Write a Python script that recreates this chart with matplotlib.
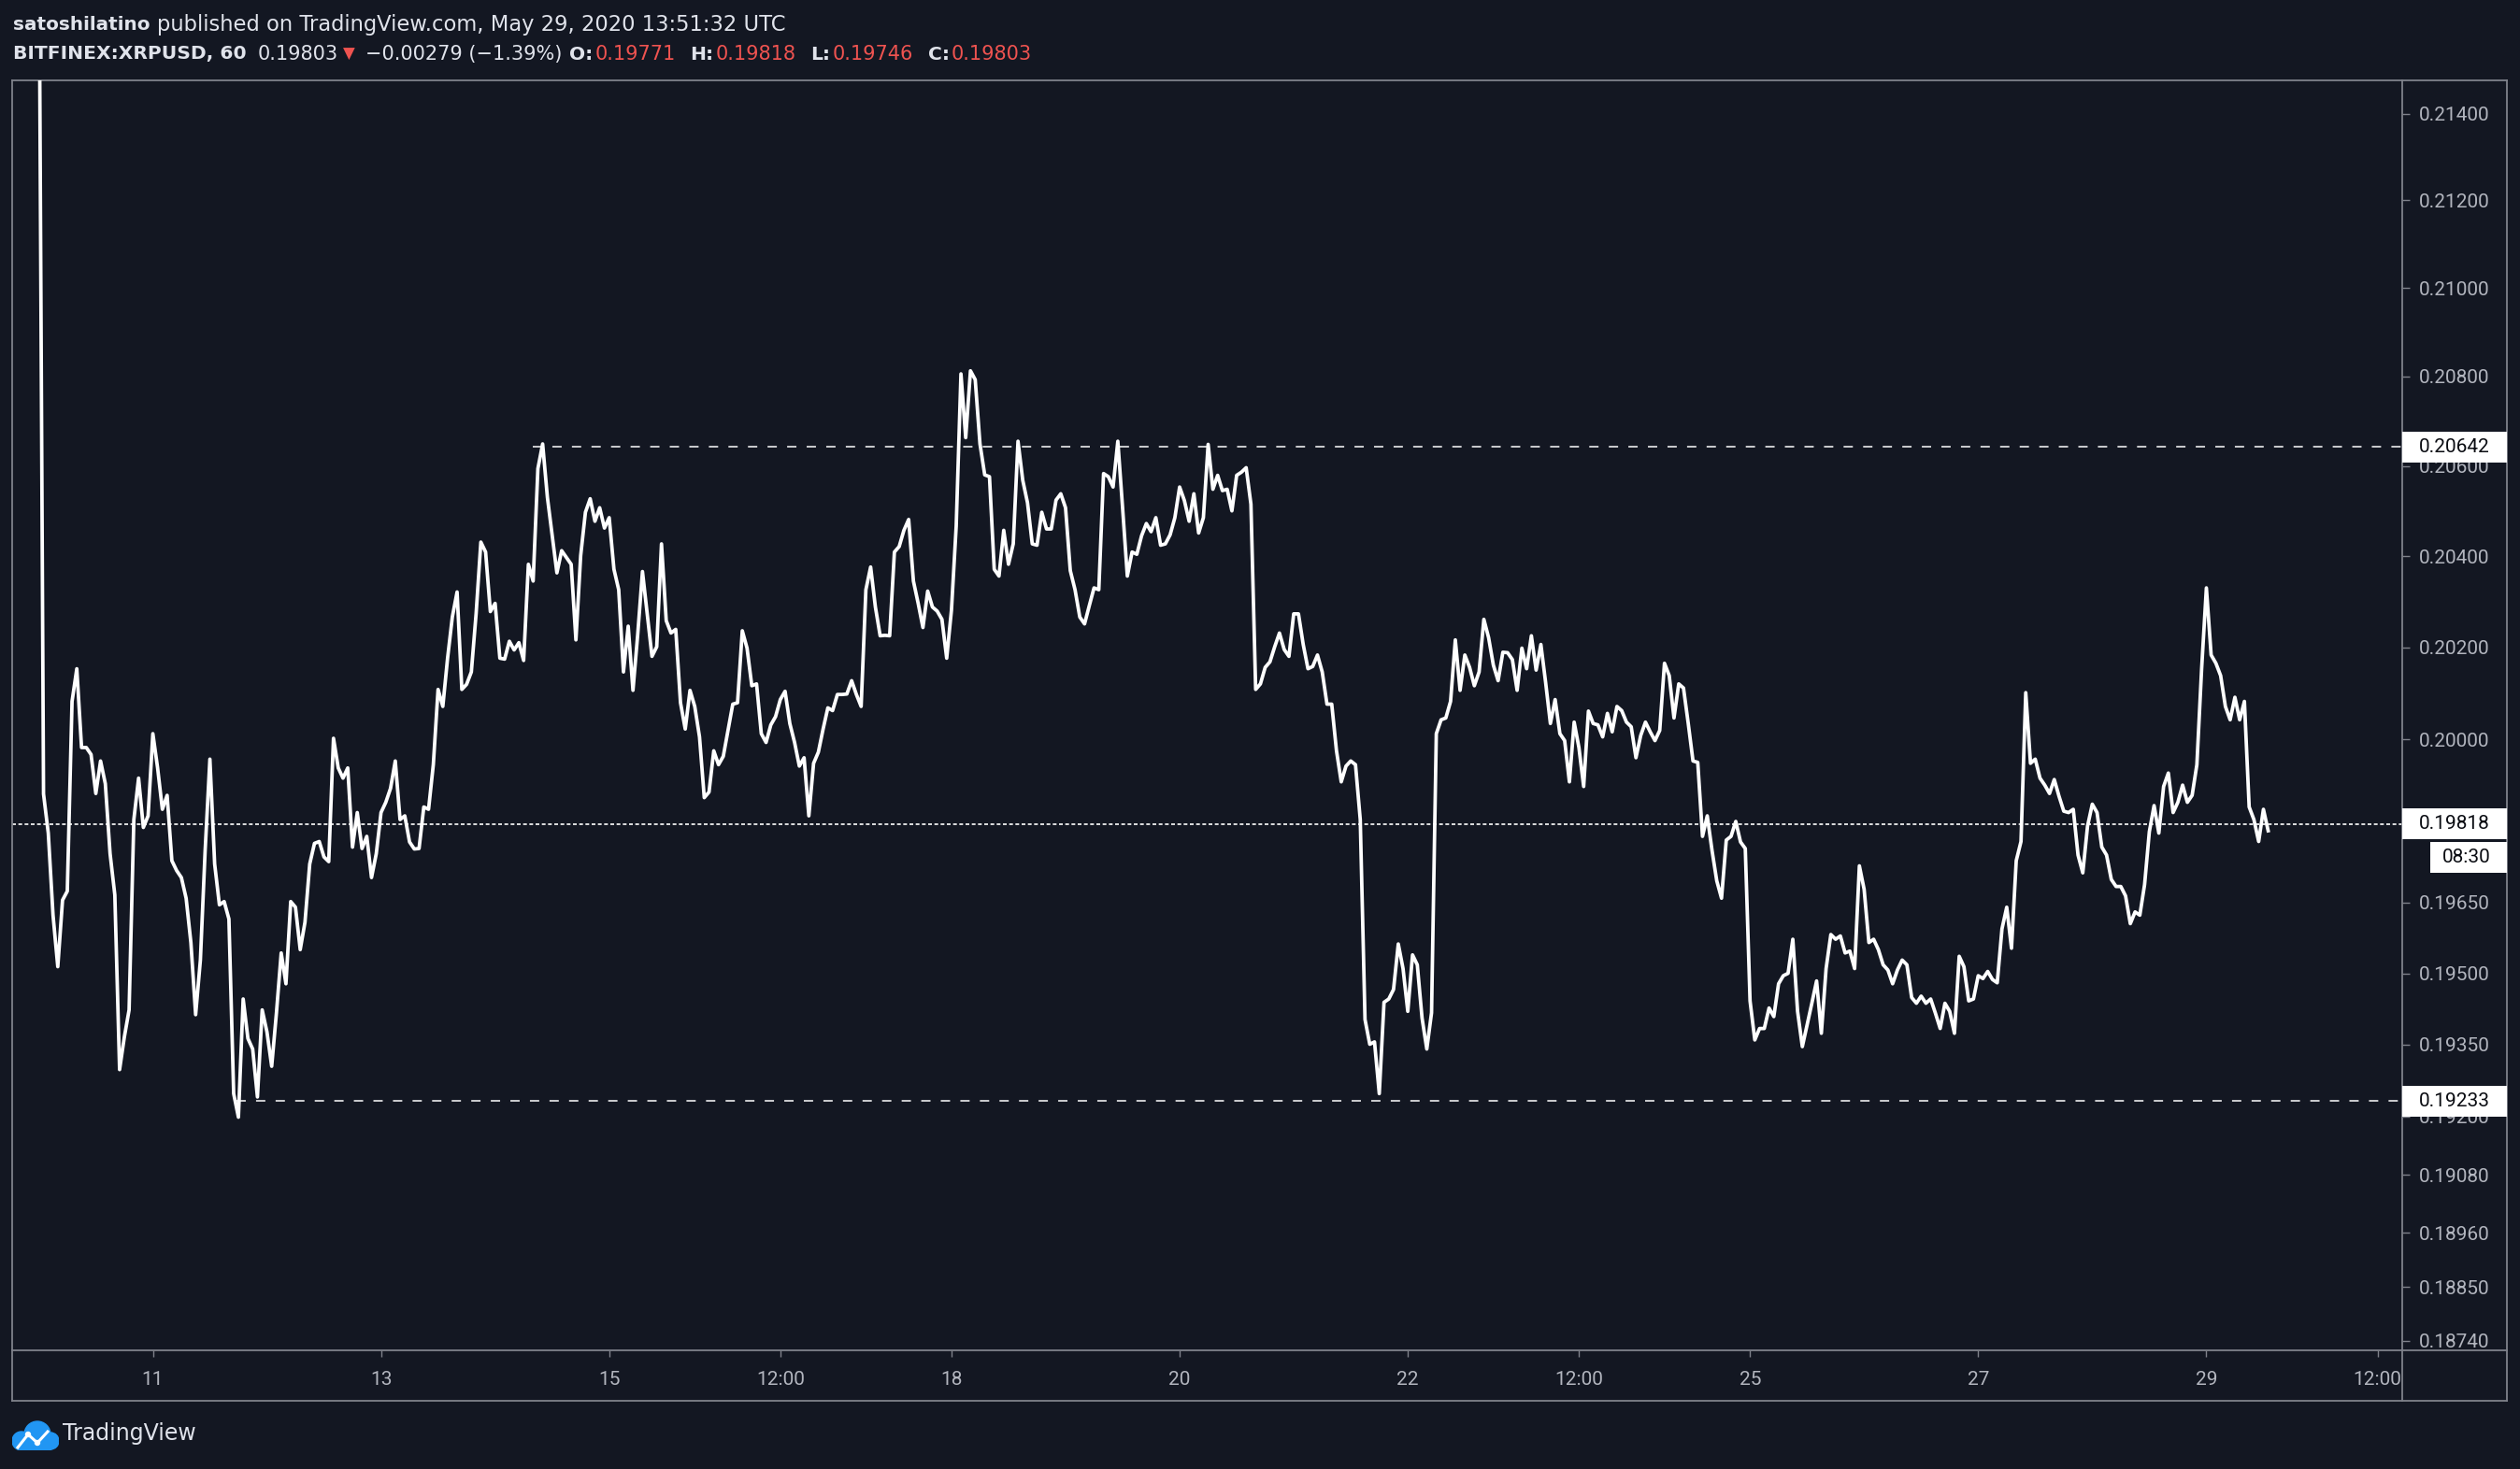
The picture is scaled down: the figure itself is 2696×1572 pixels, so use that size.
import matplotlib
matplotlib.use('Agg')
import matplotlib.pyplot as plt
import matplotlib.ticker as mticker
from matplotlib.lines import Line2D
from matplotlib.patches import Rectangle, Circle
import pandas as pd

BG = '#131722'
FRAME = '#7f828b'
TXT = '#e0e3eb'
AXTXT = '#b2b5be'
RED = '#ef5350'
AXFONT = ['Roboto', 'DejaVu Sans']

# hourly closes of BITFINEX:XRPUSD, one list per day (May 10 - May 29 2020)
may10 = [0.21930, 0.19882, 0.19798, 0.19623, 0.19514, 0.19655, 0.19674, 0.20082,
         0.20153, 0.19982, 0.19982, 0.19967, 0.19883, 0.19953, 0.19904, 0.19754,
         0.19666, 0.19298, 0.19366, 0.19423, 0.19827, 0.19916, 0.19810, 0.19835]
may11 = [0.20012, 0.19938, 0.19849, 0.19879, 0.19739, 0.19718, 0.19703, 0.19659,
         0.19565, 0.19413, 0.19528, 0.19761, 0.19957, 0.19732, 0.19645, 0.19652,
         0.19615, 0.19248, 0.19199, 0.19446, 0.19363, 0.19341, 0.19241, 0.19423]
may12 = [0.19377, 0.19305, 0.19417, 0.19543, 0.19478, 0.19652, 0.19640, 0.19550,
         0.19608, 0.19732, 0.19776, 0.19780, 0.19747, 0.19737, 0.20002, 0.19938,
         0.19916, 0.19938, 0.19768, 0.19842, 0.19765, 0.19791, 0.19703, 0.19754]
may13 = [0.19842, 0.19864, 0.19894, 0.19953, 0.19827, 0.19835, 0.19779, 0.19764,
         0.19765, 0.19854, 0.19849, 0.19945, 0.20108, 0.20071, 0.20176, 0.20266,
         0.20321, 0.20108, 0.20119, 0.20146, 0.20273, 0.20431, 0.20409, 0.20278]
may14 = [0.20296, 0.20176, 0.20174, 0.20213, 0.20194, 0.20210, 0.20171, 0.20382,
         0.20345, 0.20594, 0.20649, 0.20530, 0.20447, 0.20363, 0.20412, 0.20397,
         0.20382, 0.20216, 0.20401, 0.20497, 0.20527, 0.20477, 0.20507, 0.20462]
may15 = [0.20485, 0.20371, 0.20326, 0.20146, 0.20246, 0.20106, 0.20228, 0.20366,
         0.20273, 0.20180, 0.20201, 0.20427, 0.20258, 0.20231, 0.20239, 0.20079,
         0.20022, 0.20106, 0.20071, 0.20005, 0.19874, 0.19886, 0.19975, 0.19945]
may16 = [0.19963, 0.20019, 0.20076, 0.20079, 0.20236, 0.20198, 0.20116, 0.20120,
         0.20012, 0.19993, 0.20031, 0.20049, 0.20086, 0.20104, 0.20034, 0.19993,
         0.19942, 0.19960, 0.19835, 0.19948, 0.19972, 0.20022, 0.20068, 0.20062]
may17 = [0.20097, 0.20097, 0.20098, 0.20127, 0.20097, 0.20071, 0.20326, 0.20376,
         0.20288, 0.20225, 0.20226, 0.20225, 0.20409, 0.20421, 0.20457, 0.20481,
         0.20345, 0.20296, 0.20243, 0.20323, 0.20288, 0.20279, 0.20261, 0.20176]
may18 = [0.20281, 0.20466, 0.20806, 0.20663, 0.20813, 0.20793, 0.20649, 0.20580,
         0.20576, 0.20371, 0.20356, 0.20457, 0.20382, 0.20427, 0.20655, 0.20568,
         0.20518, 0.20427, 0.20424, 0.20497, 0.20460, 0.20460, 0.20524, 0.20538]
may19 = [0.20507, 0.20368, 0.20326, 0.20266, 0.20251, 0.20291, 0.20330, 0.20326,
         0.20583, 0.20576, 0.20553, 0.20655, 0.20507, 0.20356, 0.20409, 0.20404,
         0.20445, 0.20472, 0.20454, 0.20485, 0.20424, 0.20427, 0.20447, 0.20485]
may20 = [0.20553, 0.20523, 0.20477, 0.20538, 0.20451, 0.20485, 0.20648, 0.20548,
         0.20579, 0.20545, 0.20548, 0.20500, 0.20579, 0.20586, 0.20596, 0.20515,
         0.20108, 0.20120, 0.20156, 0.20168, 0.20201, 0.20231, 0.20195, 0.20180]
may21 = [0.20273, 0.20273, 0.20206, 0.20153, 0.20158, 0.20183, 0.20146, 0.20076,
         0.20076, 0.19975, 0.19908, 0.19942, 0.19953, 0.19945, 0.19827, 0.19403,
         0.19351, 0.19356, 0.19248, 0.19439, 0.19446, 0.19466, 0.19562, 0.19510]
may22 = [0.19420, 0.19539, 0.19518, 0.19406, 0.19341, 0.19417, 0.20012, 0.20042,
         0.20046, 0.20082, 0.20216, 0.20106, 0.20183, 0.20156, 0.20116, 0.20146,
         0.20261, 0.20221, 0.20161, 0.20127, 0.20189, 0.20188, 0.20173, 0.20106]
may23 = [0.20198, 0.20153, 0.20225, 0.20150, 0.20206, 0.20123, 0.20034, 0.20086,
         0.20012, 0.19997, 0.19908, 0.20037, 0.19982, 0.19898, 0.20061, 0.20034,
         0.20031, 0.20005, 0.20056, 0.20016, 0.20071, 0.20062, 0.20037, 0.20027]
may24 = [0.19960, 0.20008, 0.20037, 0.20016, 0.19997, 0.20019, 0.20165, 0.20138,
         0.20046, 0.20120, 0.20111, 0.20034, 0.19953, 0.19950, 0.19791, 0.19835,
         0.19761, 0.19696, 0.19659, 0.19783, 0.19791, 0.19823, 0.19779, 0.19765]
may25 = [0.19442, 0.19360, 0.19384, 0.19384, 0.19427, 0.19409, 0.19478, 0.19495,
         0.19500, 0.19572, 0.19420, 0.19346, 0.19391, 0.19437, 0.19484, 0.19374,
         0.19510, 0.19582, 0.19572, 0.19579, 0.19543, 0.19547, 0.19510, 0.19728]
may26 = [0.19678, 0.19565, 0.19572, 0.19550, 0.19518, 0.19507, 0.19478, 0.19507,
         0.19528, 0.19518, 0.19449, 0.19437, 0.19452, 0.19437, 0.19446, 0.19416,
         0.19384, 0.19437, 0.19420, 0.19374, 0.19536, 0.19514, 0.19442, 0.19446]
may27 = [0.19495, 0.19489, 0.19504, 0.19487, 0.19480, 0.19594, 0.19640, 0.19553,
         0.19739, 0.19780, 0.20101, 0.19948, 0.19957, 0.19916, 0.19901, 0.19883,
         0.19913, 0.19877, 0.19845, 0.19842, 0.19849, 0.19751, 0.19713, 0.19813]
may28 = [0.19860, 0.19842, 0.19768, 0.19751, 0.19699, 0.19684, 0.19684, 0.19664,
         0.19605, 0.19630, 0.19623, 0.19688, 0.19801, 0.19857, 0.19798, 0.19898,
         0.19927, 0.19842, 0.19864, 0.19901, 0.19864, 0.19879, 0.19945, 0.20153]
may29 = [0.20330, 0.20183, 0.20165, 0.20138, 0.20071, 0.20042, 0.20091, 0.20042,
         0.20082, 0.19854, 0.19827, 0.19780, 0.19849, 0.19803]

closes = (may10 + may11 + may12 + may13 + may14 + may15 + may16 + may17 + may18
          + may19 + may20 + may21 + may22 + may23 + may24 + may25 + may26 + may27
          + may28 + may29)
times = pd.date_range('2020-05-10 00:00', periods=len(closes), freq='h')

price_ticks = [0.214, 0.212, 0.210, 0.208, 0.206, 0.204, 0.202, 0.200,
               0.1965, 0.195, 0.1935, 0.192, 0.1908, 0.1896, 0.1885, 0.1874]
tick_dates = pd.to_datetime(['2020-05-11 00:00', '2020-05-13 00:00', '2020-05-15 00:00',
                             '2020-05-16 12:00', '2020-05-18 00:00', '2020-05-20 00:00',
                             '2020-05-22 00:00', '2020-05-23 12:00', '2020-05-25 00:00',
                             '2020-05-27 00:00', '2020-05-29 00:00', '2020-05-30 12:00'])
tick_labels = ['11', '13', '15', '12:00', '18', '20', '22', '12:00', '25', '27', '29', '12:00']

resistance = 0.20642
support = 0.19233
last_price = 0.19818
resistance_start = pd.Timestamp('2020-05-14 08:00')
support_start = pd.Timestamp('2020-05-11 17:30')
countdown = '08:30'

header_user = 'satoshilatino'
header_rest = 'published on TradingView.com, May 29, 2020 13:51:32 UTC'
symbol = 'BITFINEX:XRPUSD, 60'
last_txt = '0.19803'
change_txt = '\u22120.00279 (\u22121.39%)'
ohlc_names = ['O:', 'H:', 'L:', 'C:']
ohlc_values = ['0.19771', '0.19818', '0.19746', '0.19803']

W, H = 2696, 1572
L, R, T, B = 13, 2570, 86, 1445      # price pane in pixels
AXR, AXB = 2682, 1499                # outer edge of price / time scales

fig = plt.figure(figsize=(W / 100, H / 100), dpi=100, facecolor=BG)

ax = fig.add_axes([L / W, 1 - B / H, (R - L) / W, (B - T) / H])
ax.set_facecolor(BG)
ax.plot(times, closes, color='white', lw=2.7, zorder=3)

ax.set_yscale('log')
ax.set_ylim(0.18721, 0.21477)
ax.set_yticks(price_ticks, [f'{p:.5f}' for p in price_ticks])
ax.yaxis.set_minor_locator(mticker.NullLocator())
ax.yaxis.set_minor_formatter(mticker.NullFormatter())
ax.yaxis.tick_right()

x0, x1 = pd.Timestamp('2020-05-09 18:24'), pd.Timestamp('2020-05-30 17:12')
ax.set_xlim(x0, x1)
ax.set_xticks(tick_dates, tick_labels)

ax.tick_params(axis='y', length=6, width=1, color=FRAME, labelcolor=AXTXT,
               labelsize=15, pad=7)
ax.tick_params(axis='x', length=5, width=1, color=FRAME, labelcolor=AXTXT,
               labelsize=15, pad=11)
for lab in ax.get_xticklabels() + ax.get_yticklabels():
    lab.set_family(AXFONT)
for sp in ax.spines.values():
    sp.set_color(FRAME)
    sp.set_linewidth(1.3)

ax.hlines(resistance, resistance_start, x1, colors='white', lw=1.1,
          linestyles=(0, (6.5, 7.2)), zorder=2)
ax.hlines(support, support_start, x1, colors='white', lw=1.1,
          linestyles=(0, (6.5, 7.2)), zorder=2)
ax.axhline(last_price, color='white', lw=1.2, ls=(0, (2.4, 1.6)), zorder=2)

# outer frame of the scales
def fline(xs, ys):
    fig.add_artist(Line2D([x / W for x in xs], [1 - y / H for y in ys],
                          transform=fig.transFigure, color=FRAME, lw=1.3))

fline([L, L], [B, AXB])
fline([L, AXR], [AXB, AXB])
fline([AXR, AXR], [T, AXB])
fline([R, AXR], [T, T])
fline([R, AXR], [B, B])
fline([R, R], [B, AXB])

# price tags on the scale
def price_tag(price, label):
    yp = ax.transData.transform((ax.get_xlim()[0], price))[1]
    fig.add_artist(Rectangle((R / W, (yp - 16.5) / H), (AXR - R) / W, 33 / H,
                             transform=fig.transFigure, facecolor='white',
                             edgecolor='none', zorder=5))
    fig.text(2588 / W, yp / H, label, color='#0a0c12', fontsize=15,
             family=AXFONT, va='center', ha='left', zorder=6)
    return yp

price_tag(resistance, f'{resistance:.5f}')
price_tag(support, f'{support:.5f}')
yl = price_tag(last_price, f'{last_price:.5f}')
fig.add_artist(Rectangle((2600 / W, (yl - 16.5 - 36) / H), (AXR - 2600) / W, 33 / H,
                         transform=fig.transFigure, facecolor='white',
                         edgecolor='none', zorder=5))
fig.text(2639 / W, (yl - 36) / H, countdown, color='#0a0c12', fontsize=15,
         family=AXFONT, va='center', ha='center', zorder=6)

# header
renderer = fig.canvas.get_renderer()

def put(x, y, s, **kw):
    t = fig.text(x / W, 1 - y / H, s, va='center', ha='left', **kw)
    return t.get_window_extent(renderer).x1

x = put(14, 26, header_user, color=TXT, fontsize=14.4, fontweight='bold')
put(x + 7, 26, header_rest, color=TXT, fontsize=16.3)

x = put(14, 58, symbol, color=TXT, fontsize=14.6, fontweight='bold')
x = put(x + 12, 58, last_txt, color=TXT, fontsize=15)
x = put(x + 5, 58, '\u25bc', color=RED, fontsize=12)
x = put(x + 12, 58, change_txt, color=TXT, fontsize=15)
x += 7
for name, val in zip(ohlc_names, ohlc_values):
    x = put(x, 58, name, color=TXT, fontsize=14.6, fontweight='bold')
    x = put(x + 2, 58, val, color=RED, fontsize=15)
    x += 16

# TradingView logo
lax = fig.add_axes([13 / W, 1 - 1552 / H, 50 / W, 32 / H])
lax.set_xlim(0, 50)
lax.set_ylim(0, 32)
lax.axis('off')
blue = '#2196f3'
for cx, cy, r in [(10, 10, 10), (27, 17, 14), (41, 10, 9)]:
    lax.add_patch(Circle((cx, cy), r, color=blue))
lax.add_patch(Rectangle((10, 0), 31, 12, color=blue))
lax.plot([6, 17, 27, 38], [3, 17, 8, 20], color='white', lw=2.2)
for px, py in [(17, 17), (27, 8)]:
    lax.add_patch(Circle((px, py), 2.5, color='white'))
put(67, 1534, 'TradingView', color=TXT, fontsize=17)

fig.savefig('out.png', dpi=100, facecolor=BG)
